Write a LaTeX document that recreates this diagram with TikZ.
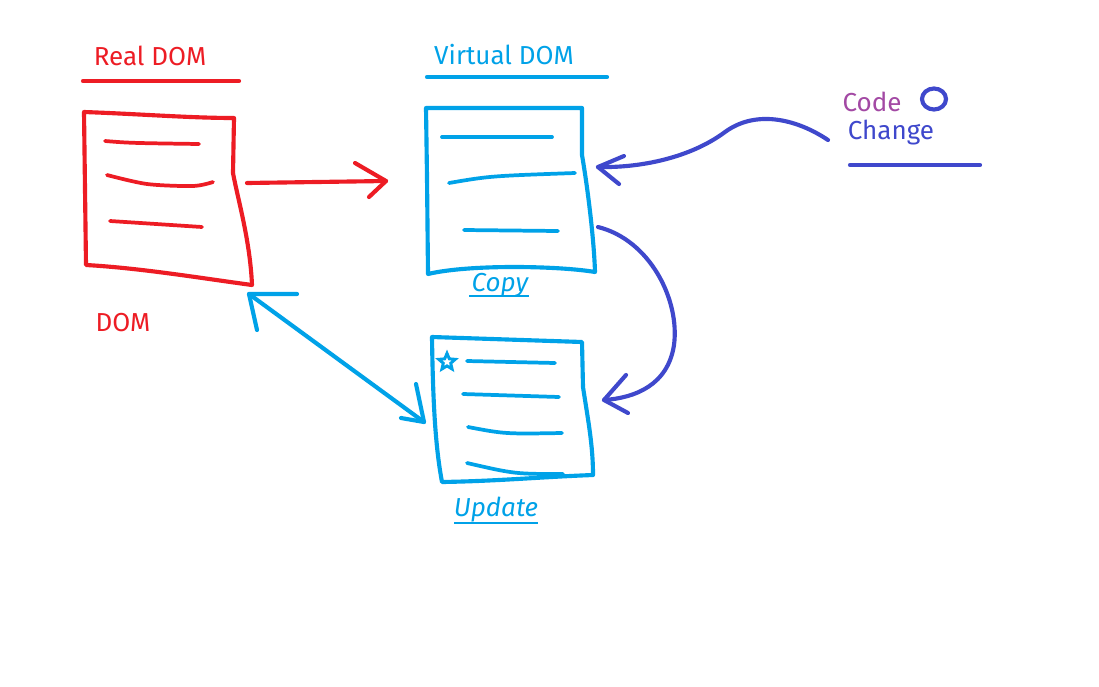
\documentclass[tikz,border=0pt]{standalone}
\usepackage{fontspec}
\setmainfont{Fira Sans}
\usetikzlibrary{calc,shapes.geometric}
\definecolor{pred}{HTML}{ED1C24}
\definecolor{pblue}{HTML}{00A2E8}
\definecolor{pindigo}{HTML}{3F48CC}
\definecolor{ppurple}{HTML}{A349A4}
\tikzset{
  pen/.style={line width=3.1pt, line cap=round, line join=round},
  thinpen/.style={line width=2.8pt, line cap=round, line join=round},
  lbl/.style={font=\fontsize{19.5}{21}\selectfont, inner sep=0pt},
  ilbl/.style={font=\fontsize{19.5}{21}\selectfont\itshape, inner sep=0pt},
}
\begin{document}
\begin{tikzpicture}[x=0.75pt,y=-0.75pt]
\useasboundingbox (0,0) rectangle (1099,686);
\fill[white] (0,0) rectangle (1099,686);

% ---- Real DOM ----
\node[lbl, text=pred] (realdom) at (150,56) {Real DOM};
\draw[pen, pred] (83,81) -- (239,81);
\draw[pen, pred] (84,112) .. controls (140,114) and (190,118) .. (234,118)
  -- (233,173) .. controls (238,200) and (250,240) .. (252,285)
  .. controls (200,278) and (140,268) .. (86,265) -- cycle;
\draw[thinpen, pred] (105,141) .. controls (130,143) .. (199,144);
\draw[thinpen, pred] plot[smooth] coordinates {(107,175) (147,184) (193,186) (213,182)};
\draw[thinpen, pred] (110,221) -- (202,227);
\node[lbl, text=pred] (domlbl) at (123,323) {DOM};

% red arrow
\coordinate (ra1) at (247,183);
\coordinate (ra2) at (386,181);
\draw[pen, pred] (ra1) -- (ra2);
\draw[pen, pred] (355,163) -- (ra2) -- (369,197);

% ---- Virtual DOM ----
\node[lbl, text=pblue] (vdom) at (504,55) {Virtual DOM};
\draw[pen, pblue] (427,77) -- (607,77);
\draw[pen, pblue] (426,108) -- (582,108) -- (582,155)
  .. controls (588,190) and (594,240) .. (595,272)
  .. controls (560,266) and (470,264) .. (428,274)
  -- (427,177) -- cycle;
\draw[thinpen, pblue] (442,137) -- (552,137);
\draw[thinpen, pblue] (449,183) .. controls (490,176) .. (575,173);
\draw[thinpen, pblue] (464,230) -- (558,231);
\node[ilbl, text=pblue] (copy) at (500,285) {Copy};
\draw[line width=1pt, pblue] (469,296) -- (529,296);

% ---- Update box ----
\draw[pen, pblue] (432,337) -- (582,342) -- (583,387)
  .. controls (588,420) and (593,445) .. (593,475)
  .. controls (540,477) and (500,481) .. (442,482)
  .. controls (436,450) and (433,410) .. (432,337) -- cycle;
\draw[thinpen, pblue] (467,361) -- (555,363);
\draw[thinpen, pblue] (463,394) -- (559,397);
\draw[thinpen, pblue] (468,427) .. controls (505,434) .. (562,433);
\draw[thinpen, pblue] (467,463) .. controls (515,474) .. (563,474);
\node[pblue, line width=2.2pt, draw, star, star points=5, star point ratio=2.2, minimum size=13pt, inner sep=0pt] (starmark) at (447,362) {};
\node[ilbl, text=pblue] (update) at (496,510) {Update};
\draw[line width=1pt, pblue] (454,523) -- (538,523);

% light blue double arrow
\coordinate (ba1) at (249,294);
\coordinate (ba2) at (424,422);
\draw[pen, pblue] (ba1) -- (ba2);
\draw[pen, pblue] (297,294) -- (ba1) -- (257,330);
\draw[pen, pblue] (416,384) -- (ba2) -- (401,418);

% ---- Code Change ----
\node[lbl, text=ppurple] (code) at (872,102) {Code};
\node[lbl, text=pindigo] (change) at (891,133) {Change};
\draw[pen, pindigo] (934,99) ellipse (12 and 10.5);
\draw[pen, pindigo] (850,165) -- (980,165);

% indigo arrow to virtual DOM
\coordinate (ia1) at (828,140);
\coordinate (ia2) at (598,167);
\draw[pen, pindigo] (ia1) .. controls (795,118) and (755,110) .. (725,132)
  .. controls (690,158) and (640,168) .. (ia2);
\draw[pen, pindigo] (624,156) -- (ia2) -- (619,184);

% indigo curved arrow to update
\coordinate (ca1) at (598,227);
\coordinate (ca2) at (604,400);
\draw[pen, pindigo] (ca1) .. controls (650,240) and (680,300) .. (674,345)
  .. controls (668,385) and (635,398) .. (ca2);
\draw[pen, pindigo] (626,375) -- (ca2) -- (628,413);
\end{tikzpicture}
\end{document}
